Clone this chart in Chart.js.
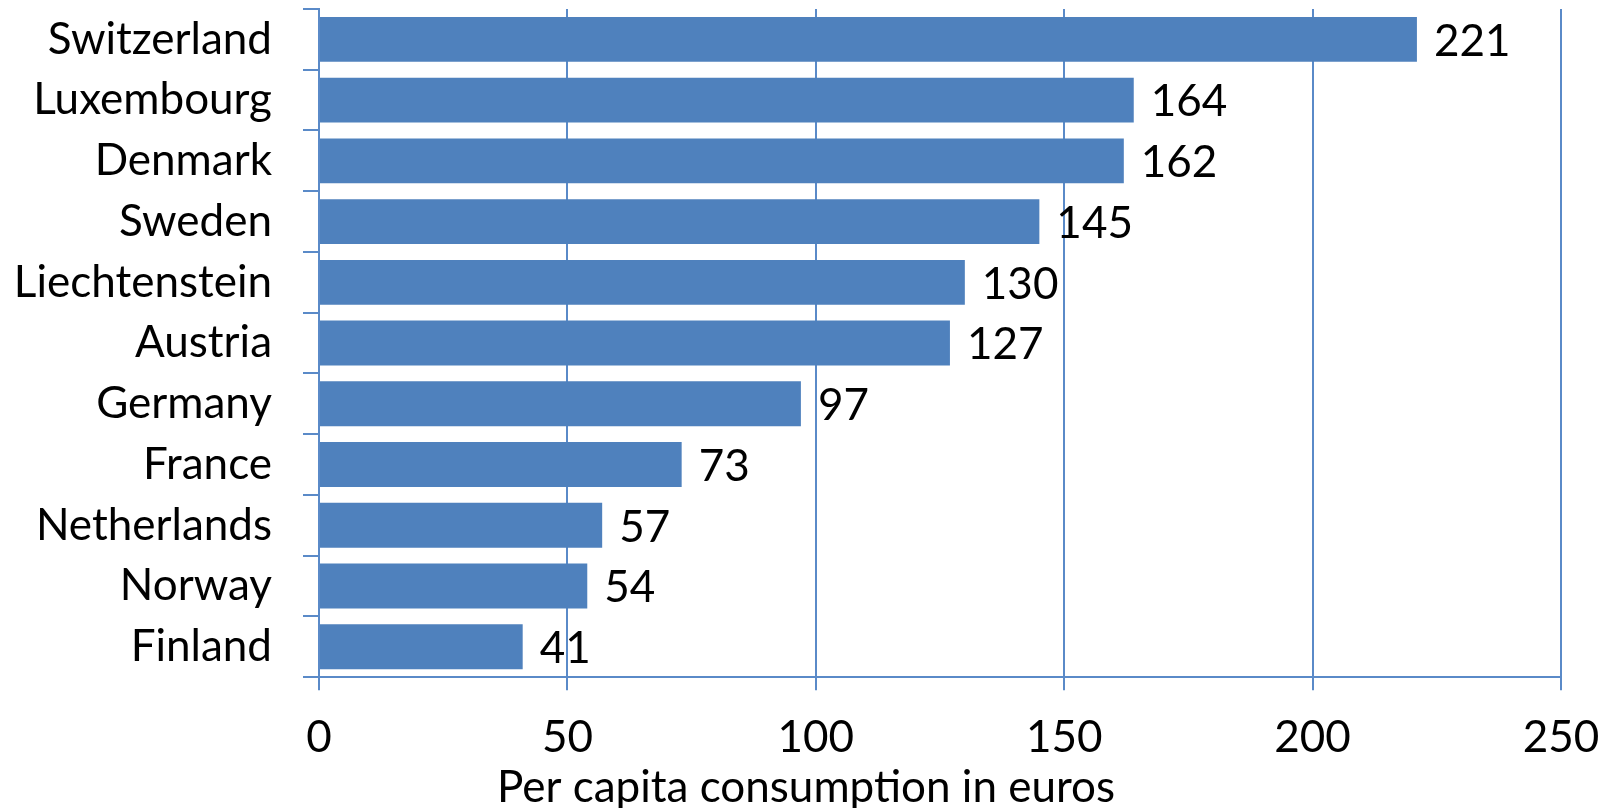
<!DOCTYPE html>
<html>
<head>
<meta charset="utf-8">
<script src="https://cdn.jsdelivr.net/npm/chart.js@4/dist/chart.umd.min.js"></script>
<style>
  html, body { margin: 0; padding: 0; background: #ffffff; }
  #wrap { width: 1612px; height: 808px; }
</style>
</head>
<body>
<div id="wrap"><canvas id="c" width="1612" height="808"></canvas></div>
<script>
const countries = ["Switzerland", "Luxembourg", "Denmark", "Sweden", "Liechtenstein", "Austria", "Germany", "France", "Netherlands", "Norway", "Finland"];
const consumption = [221, 164, 162, 145, 130, 127, 97, 73, 57, 54, 41];
const xTicks = [0, 50, 100, 150, 200, 250];
const axisTitle = "Per capita consumption in euros";

const FONT = "Lato, 'Liberation Sans', sans-serif";
const FSIZE = 44;
const barColor = "#4F81BD";
const gridColor = "#5A8AC8";

const valueLabels = {
  id: "valueLabels",
  afterDatasetsDraw(chart) {
    const ctx = chart.ctx;
    const meta = chart.getDatasetMeta(0);
    ctx.save();
    ctx.font = FSIZE + "px " + FONT;
    ctx.fillStyle = "#000000";
    ctx.textAlign = "left";
    ctx.textBaseline = "middle";
    meta.data.forEach((bar, i) => {
      ctx.fillText(String(chart.data.datasets[0].data[i]), bar.x + 17, bar.y + 2);
    });
    ctx.restore();
  }
};

new Chart(document.getElementById("c"), {
  type: "bar",
  data: {
    labels: countries,
    datasets: [{
      data: consumption,
      backgroundColor: barColor,
      borderWidth: 0,
      barPercentage: 0.74,
      categoryPercentage: 1.0
    }]
  },
  options: {
    indexAxis: "y",
    responsive: false,
    animation: false,
    layout: { padding: { left: 0, right: 0, top: 9, bottom: 0 } },
    plugins: {
      legend: { display: false },
      tooltip: { enabled: false },
      title: {
        display: true,
        position: "bottom",
        text: axisTitle,
        color: "#000000",
        font: { family: FONT, size: FSIZE, weight: "normal" },
        padding: { top: 0, bottom: -6 }
      }
    },
    scales: {
      x: {
        type: "linear",
        min: 0,
        max: 250,
        afterBuildTicks(scale) { scale.ticks = xTicks.map(v => ({ value: v })); },
        afterFit(scale) { scale.height = 84; scale.paddingRight = 51; },
        ticks: {
          color: "#000000",
          font: { family: FONT, size: FSIZE },
          padding: 21,
          maxRotation: 0
        },
        grid: {
          color: gridColor,
          lineWidth: 2,
          tickLength: 13,
          drawOnChartArea: true,
          drawTicks: true
        },
        border: { display: true, color: gridColor, width: 2 }
      },
      y: {
        afterFit(scale) { scale.width = 319; scale.paddingTop = 0; scale.paddingBottom = 0; },
        ticks: {
          color: "#000000",
          font: { family: FONT, size: FSIZE },
          padding: 31,
          autoSkip: false
        },
        grid: {
          offset: true,
          color: gridColor,
          lineWidth: 2,
          tickLength: 16,
          drawOnChartArea: false,
          drawTicks: true
        },
        border: { display: true, color: gridColor, width: 2 }
      }
    }
  },
  plugins: [valueLabels]
});
</script>
</body>
</html>
